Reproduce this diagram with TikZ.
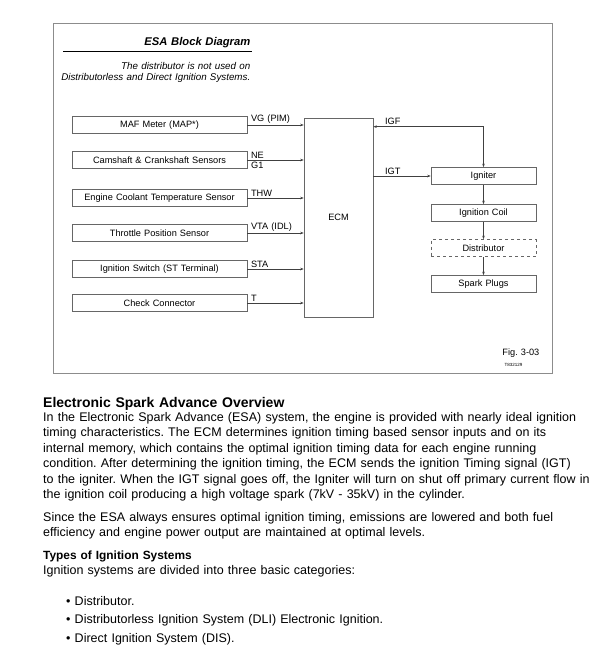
\documentclass[tikz,border=0pt]{standalone}
\usepackage{fontspec}
\setmainfont{Liberation Sans}[WordSpace=1.2]
\usetikzlibrary{arrows.meta}
\frenchspacing

\begin{document}
\begin{tikzpicture}[x=1pt,y=-1pt]
    \tikzset{block/.style = {draw=black!60,line width=0.6pt,minimum height=17pt,inner sep=1pt,font=\fontsize{9.2}{10}\selectfont}}
    \tikzset{sensor/.style = {block,minimum width=175pt}}
    \tikzset{part/.style = {block,minimum width=105pt}}
    \tikzset{sig/.style = {draw=black!75,line width=0.6pt,-{Stealth[length=3.5pt,width=2.5pt]}}}
    \tikzset{lbl/.style = {font=\fontsize{9.2}{10}\selectfont,inner sep=1.5pt}}
    \tikzset{body/.style = {anchor=base west,inner sep=0pt,font=\fontsize{12.5}{14}\selectfont}}
    \useasboundingbox (0,0) rectangle (608,663);
    % frame and title
    \draw[black!45,line width=0.7pt] (53,23) rectangle (552,373);
    \node[lbl,anchor=base east,font=\fontsize{11.2}{12}\bfseries\itshape] (title) at (252,46) {ESA Block Diagram};
    \draw[line width=1pt] (63,52) -- (252,52);
    \node[lbl,anchor=base east,font=\fontsize{9.8}{10}\itshape] (note1) at (252,70) {The distributor is not used on};
    \node[lbl,anchor=base east,font=\fontsize{9.8}{10}\itshape] (note2) at (252,81) {Distributorless and Direct Ignition Systems.};
    % sensors
    \node[sensor] (maf) at (159.5,125) {MAF Meter (MAP*)};
    \node[sensor] (cam) at (159.5,160) {Camshaft \& Crankshaft Sensors};
    \node[sensor] (ect) at (159.5,198) {Engine Coolant Temperature Sensor};
    \node[sensor] (tps) at (159.5,233) {Throttle Position Sensor};
    \node[sensor] (isw) at (159.5,269) {Ignition Switch (ST Terminal)};
    \node[sensor] (chk) at (159.5,303) {Check Connector};
    \node[block,minimum width=69pt,minimum height=199pt] (ecm) at (338.5,217.5) {ECM};
    % ignition parts
    \node[part] (igniter) at (483.5,176) {Igniter};
    \node[part] (coil) at (483.5,213) {Ignition Coil};
    \node[part,dashed] (dist) at (483.5,248) {Distributor};
    \node[part] (plugs) at (483.5,284) {Spark Plugs};
    % inputs
    \draw[sig] (maf.east) -- node[lbl,pos=0,above right,xshift=2pt] (vg) {VG (PIM)} (maf.east -| ecm.west);
    \draw[sig] (cam.east) -- node[lbl,pos=0,above right,xshift=2pt] (ne) {NE}
      node[lbl,pos=0,below right,xshift=2pt] (g1) {G1} (cam.east -| ecm.west);
    \draw[sig] (ect.east) -- node[lbl,pos=0,above right,xshift=2pt] (thw) {THW} (ect.east -| ecm.west);
    \draw[sig] (tps.east) -- node[lbl,pos=0,above right,xshift=2pt] (vta) {VTA (IDL)} (tps.east -| ecm.west);
    \draw[sig] (isw.east) -- node[lbl,pos=0,above right,xshift=2pt] (sta) {STA} (isw.east -| ecm.west);
    \draw[sig] (chk.east) -- node[lbl,pos=0,above right,xshift=2pt] (t) {T} (chk.east -| ecm.west);
    % outputs
    \draw[sig,{Stealth[length=3.5pt,width=2.5pt]}-{Stealth[length=3.5pt,width=2.5pt]}] ([yshift=-9pt]ecm.north east) -- node[lbl,pos=0,above right,xshift=10pt] (igf) {IGF} ([yshift=-9pt]ecm.north east -| igniter.north) -- (igniter.north);
    \draw[sig] (igniter.west -| ecm.east) -- node[lbl,pos=0,above right,xshift=10pt] (igt) {IGT} (igniter.west);
    \draw[sig] (igniter) -- (coil);
    \draw[sig] (coil) -- (dist);
    \draw[sig] (dist) -- (plugs);
    \node[lbl,anchor=base east] (fig) at (541,355) {Fig. 3-03};
    \node[lbl,anchor=base west,font=\fontsize{4.5}{5}\selectfont] (code) at (503,366) {T832129};
    % text below
    \node[body,font=\fontsize{14}{15}\bfseries] (head) at (43,407) {Electronic Spark Advance Overview};
    \foreach \txt [count=\i] in {{In the Electronic Spark Advance (ESA) system, the engine is provided with nearly ideal ignition},
      {timing characteristics. The ECM determines ignition timing based sensor inputs and on its},
      {internal memory, which contains the optimal ignition timing data for each engine running},
      {condition. After determining the ignition timing, the ECM sends the ignition Timing signal (IGT)},
      {to the igniter. When the IGT signal goes off, the Igniter will turn on shut off primary current flow in},
      {the ignition coil producing a high voltage spark (7kV - 35kV) in the cylinder.}}
      \node[body] (para-\i) at (43,421+15.5*\i-15.5) {\txt};
    \node[body] (since1) at (43,521) {Since the ESA always ensures optimal ignition timing, emissions are lowered and both fuel};
    \node[body] (since2) at (43,536.5) {efficiency and engine power output are maintained at optimal levels.};
    \node[body,font=\fontsize{11.9}{14}\bfseries] (types) at (43,559) {Types of Ignition Systems};
    \node[body] (cats) at (43,574.5) {Ignition systems are divided into three basic categories:};
    \node[body] (b1) at (66,605) {\textbullet\ Distributor.};
    \node[body] (b2) at (66,623.5) {\textbullet\ Distributorless Ignition System (DLI) Electronic Ignition.};
    \node[body] (b3) at (66,642) {\textbullet\ Direct Ignition System (DIS).};
\end{tikzpicture}
\end{document}
